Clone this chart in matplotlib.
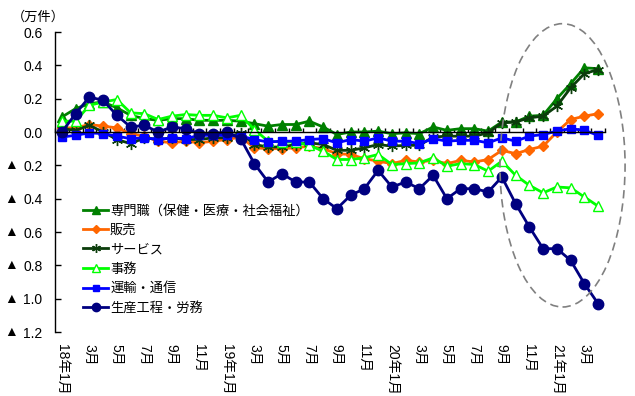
import numpy as np
import matplotlib
matplotlib.use('Agg')
import matplotlib.pyplot as plt
from matplotlib.patches import Ellipse
from matplotlib.transforms import blended_transform_factory

plt.rcParams['font.family'] = ['Liberation Sans', 'Noto Sans CJK JP', 'DejaVu Sans']

# 職業別 前年同月差（万件）, 2018年1月〜2021年4月
tick_labels = ['18年1月', '3月', '5月', '7月', '9月', '11月',
               '19年1月', '3月', '5月', '7月', '9月', '11月',
               '20年1月', '3月', '5月', '7月', '9月', '11月',
               '21年1月', '3月']

names = ['専門職（保健・医療・社会福祉）', '販売', 'サービス', '事務', '運輸・通信', '生産工程・労務']

senmon = [0.09, 0.14, 0.17, 0.18, 0.145, 0.10, 0.08, 0.07, 0.08, 0.08,
          0.07, 0.07, 0.07, 0.065, 0.05, 0.035, 0.045, 0.045, 0.065, 0.03,
          -0.015, 0.0, 0.0, 0.005, -0.01, -0.005, -0.01, 0.03, 0.01, 0.02,
          0.02, 0.005, 0.06, 0.06, 0.095, 0.10, 0.20, 0.29, 0.385, 0.38]

hanbai = [0.025, 0.025, 0.045, 0.035, 0.025, -0.01, -0.025, -0.055, -0.065, -0.055,
          -0.065, -0.055, -0.045, -0.03, -0.095, -0.10, -0.10, -0.095, -0.085, -0.10,
          -0.13, -0.135, -0.16, -0.175, -0.19, -0.17, -0.18, -0.17, -0.19, -0.17,
          -0.18, -0.165, -0.11, -0.13, -0.105, -0.085, 0.0, 0.075, 0.095, 0.11]

service = [0.02, 0.01, 0.04, 0.0, -0.045, -0.07, -0.035, -0.045, -0.035, -0.045,
           -0.045, -0.035, -0.035, -0.005, -0.075, -0.09, -0.09, -0.075, -0.065, -0.075,
           -0.11, -0.11, -0.095, -0.075, -0.085, -0.08, -0.08, -0.03, -0.025, -0.025,
           -0.025, -0.005, 0.055, 0.06, 0.085, 0.095, 0.155, 0.265, 0.35, 0.375]

jimu = [0.065, 0.065, 0.16, 0.18, 0.195, 0.115, 0.11, 0.075, 0.095, 0.105,
        0.10, 0.10, 0.085, 0.10, 0.015, -0.055, -0.06, -0.06, -0.08, -0.115,
        -0.165, -0.165, -0.155, -0.135, -0.195, -0.19, -0.185, -0.155, -0.205, -0.19,
        -0.195, -0.235, -0.175, -0.26, -0.32, -0.365, -0.33, -0.335, -0.39, -0.445]

unyu = [-0.03, -0.02, -0.005, -0.01, -0.025, -0.04, -0.035, -0.045, -0.035, -0.04,
        -0.02, -0.02, -0.02, -0.025, -0.045, -0.06, -0.055, -0.055, -0.045, -0.04,
        -0.065, -0.045, -0.055, -0.035, -0.055, -0.055, -0.07, -0.04, -0.055, -0.05,
        -0.05, -0.065, -0.035, -0.055, -0.025, -0.015, 0.005, 0.02, 0.01, -0.02]

seisan = [0.00, 0.11, 0.21, 0.19, 0.10, 0.03, 0.04, 0.00, 0.03, 0.02,
          -0.01, -0.01, 0.00, -0.04, -0.19, -0.30, -0.25, -0.30, -0.30, -0.40,
          -0.46, -0.38, -0.34, -0.23, -0.33, -0.30, -0.34, -0.26, -0.40, -0.34,
          -0.34, -0.36, -0.27, -0.43, -0.57, -0.70, -0.70, -0.77, -0.91, -1.03]

x = np.arange(len(seisan))

fig = plt.figure(figsize=(6.35, 3.96), dpi=100)
ax = fig.add_axes([55 / 635, 64 / 396, 550 / 635, 300 / 396])

ax.plot(x, senmon, color='#008000', lw=2, marker='^', ms=7, label=names[0])
ax.plot(x, hanbai, color='#FF6600', lw=2, marker='D', ms=5.5, label=names[1])
ax.plot(x, service, color='#0B3D0B', lw=2, marker=(6, 2, 0), ms=8, mew=1, label=names[2])
ax.plot(x, jimu, color='#00FF00', lw=2, marker='^', ms=7, mfc='white',
        mec='#00FF00', mew=1, label=names[3])
ax.plot(x, unyu, color='#0000FF', lw=2, marker='s', ms=6, label=names[4])
ax.plot(x, seisan, color='#000080', lw=2, marker='o', ms=7.5, label=names[5])

ax.set_xlim(-0.5, len(x) - 0.5)
ax.set_ylim(-1.2, 0.6)

# 軸: 横軸は0の位置、目盛は内向き
for s in ['top', 'right']:
    ax.spines[s].set_visible(False)
ax.spines['bottom'].set_position(('data', 0))
ax.spines['bottom'].set_linewidth(1)
ax.spines['left'].set_linewidth(1)

ax.set_xticks(np.arange(-0.5, len(x), 1))
ax.tick_params(axis='x', direction='in', length=3, width=1, labelbottom=False)

yticks = np.round(np.arange(-1.2, 0.61, 0.2), 1)
ax.set_yticks(yticks)
ax.set_yticklabels(['%.1f' % abs(v) for v in yticks])
ax.tick_params(axis='y', direction='in', length=4, width=1, pad=9, labelsize=10)

# マイナスは▲で表示
tr = blended_transform_factory(fig.transFigure, ax.transData)
for v in yticks:
    if v < 0:
        ax.text(11 / 635, v, '▲', transform=tr, ha='center', va='center', fontsize=10)

# 月ラベル（縦書き）
trx = blended_transform_factory(ax.transData, ax.transAxes)
for i, lab in enumerate(tick_labels):
    ax.text(2 * i, -0.04, lab, transform=trx, rotation=-90, ha='center', va='top',
            fontsize=10)

fig.text(12 / 635, 1 - 17 / 396, '（万件）', ha='left', va='center', fontsize=9.5)

ell = Ellipse((36.41, -0.2), width=9.1, height=1.70, fill=False, edgecolor='#808080',
              lw=1.2, ls=(0, (5, 3)), clip_on=False, zorder=5)
ax.add_patch(ell)

ax.legend(loc='upper left', bbox_to_anchor=(83 / 635, 1 - 205 / 396),
          bbox_transform=fig.transFigure, frameon=False, fontsize=9.5,
          handlelength=1.9, handletextpad=0.15, labelspacing=0.52,
          borderpad=0, borderaxespad=0, numpoints=1, markerscale=0.8)

fig.savefig('out.png', dpi=100)
